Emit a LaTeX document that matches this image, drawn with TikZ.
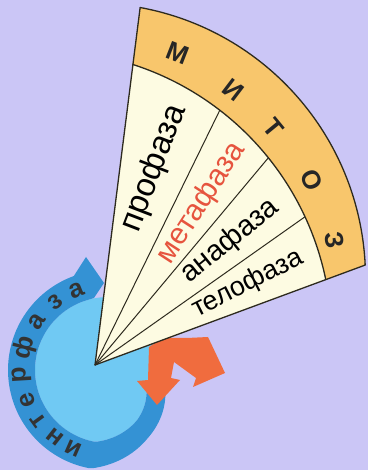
\documentclass[tikz,border=0pt]{standalone}
\usepackage{fontspec}
\setmainfont{Liberation Sans}
\definecolor{bg}{RGB}{203,198,246}
\definecolor{cream}{RGB}{253,251,226}
\definecolor{bandor}{RGB}{248,198,108}
\definecolor{lblue}{RGB}{112,201,243}
\definecolor{dblue}{RGB}{52,146,212}
\definecolor{arrowor}{RGB}{240,108,62}
\definecolor{metared}{RGB}{230,84,62}
\definecolor{edgec}{RGB}{45,42,30}
\tikzset{
  edge/.style={draw=edgec, line width=1.3pt, line join=round},
  phase/.style={inner sep=0pt},
  mitoz/.style={font=\bfseries\fontsize{26}{26}\selectfont, inner sep=0pt, text=black!85},
  ringtxt/.style={font=\bfseries\fontsize{26}{26}\selectfont, inner sep=0pt, text=black!80}
}
\begin{document}
\begin{tikzpicture}[x=1pt,y=1pt,
  declare function={
    rmid(\t)=(\t<-100)*86.5+(\t>=-100)*(86.5-(\t+100)*0.45);
    rw(\t)=(\t<-100)*27+(\t>=-100)*max(21,27-(\t+100)*0.15);
    ro(\t)=rmid(\t)+rw(\t)/2;
    ri(\t)=rmid(\t)-rw(\t)/2;
  }]
\useasboundingbox (0,0) rectangle (368,470);
\fill[bg] (0,0) rectangle (368,470);

% ---------- interphase ring ----------
\coordinate (RC) at (108,100);
\fill[lblue] plot[domain=-20:-330, samples=100] ({108+ri(\x)*cos(\x)},{100+ri(\x)*sin(\x)}) -- cycle;
\coordinate (barb) at (86,213);
\coordinate (tipR) at (104,187);
\coordinate (hin) at (94,172);
\fill[dblue] plot[domain=-20:-250, samples=100] ({108+ro(\x)*cos(\x)},{100+ro(\x)*sin(\x)})
  -- (barb) -- (tipR) -- (hin)
  -- plot[domain=-250:-20, samples=100] ({108+ri(\x)*cos(\x)},{100+ri(\x)*sin(\x)}) -- cycle;
\foreach \a/\l [count=\i] in {-113.7/и,-128.3/н,-143.8/т,-159.7/е,-176.6/р,164.9/ф,145.9/а,127.9/з,111.7/а}
  \path (RC) ++(\a:86pt) node[ringtxt, rotate=\a-90] (rl\i) {\l};

% ---------- orange split arrow ----------
\fill[arrowor] (149,123) -- (163,132) -- (187,132) -- (208,133) -- (225,97) -- (193,83)
  -- (196,92) -- (174,108) -- (171,92) -- (180,90) -- (157,65) -- (137,89) -- (148,90) -- cycle;

% ---------- mitosis fan ----------
\coordinate (C) at (95,105);
\coordinate (O1) at (90.5,192);
\coordinate (O2) at (44.7,132.4);
\path (O1) ++(79.6:275pt) coordinate (OL);
\path (O1) ++(2.7:275pt) coordinate (OR);
\path (O2) ++(72.2:287pt) coordinate (IL);
\path (O2) ++(11.6:287pt) coordinate (IR);
\path (O2) ++(52.4:287pt) coordinate (d1);
\path (O2) ++(38.8:287pt) coordinate (d2);
\path (O2) ++(24.9:287pt) coordinate (d3);

\fill[cream] (C) -- (OL) arc[start angle=79.6, end angle=2.7, radius=275pt] -- cycle;
\fill[bandor] (OL) arc[start angle=79.6, end angle=2.7, radius=275pt] -- (IR)
  arc[start angle=11.6, end angle=72.2, radius=287pt] -- cycle;
\draw[edge] (IR) arc[start angle=11.6, end angle=72.2, radius=287pt];
\draw[edge, line width=1pt] (C) -- (d1);
\draw[edge, line width=1pt] (C) -- (d2);
\draw[edge, line width=1pt] (C) -- (d3);
\draw[edge] (C) -- (OL) arc[start angle=79.6, end angle=2.7, radius=275pt] -- cycle;

% phase labels
\node[phase, rotate=69, font=\fontsize{33}{33}\selectfont] (pro) at (154,302) {профаза};
\node[phase, rotate=57, text=metared, font=\fontsize{30}{30}\selectfont] (meta) at (201.5,267) {метафаза};
\node[phase, rotate=39, font=\fontsize{29}{29}\selectfont] (ana) at (230,229) {анафаза};
\node[phase, rotate=27, font=\fontsize{27}{27}\selectfont] (telo) at (248,186) {телофаза};

% mitosis letters
\node[mitoz, rotate=-21.3] (m1) at (178,417) {М};
\node[mitoz, rotate=-37.2] (m2) at (233,380) {И};
\node[mitoz, rotate=-50.6] (m3) at (273,342) {Т};
\node[mitoz, rotate=-66] (m4) at (312,290) {О};
\node[mitoz, rotate=-81.2] (m5) at (335,230) {З};
\end{tikzpicture}
\end{document}
